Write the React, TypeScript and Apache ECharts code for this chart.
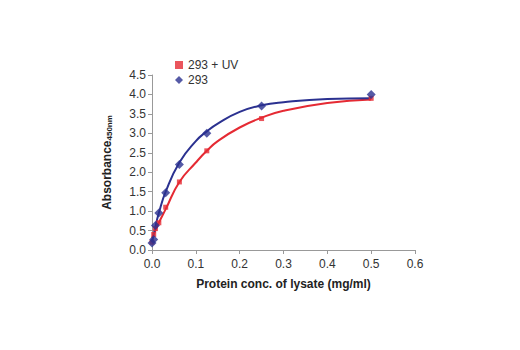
import React, { useEffect, useRef } from "react";
import * as echarts from "echarts";

const xRed = [0, 0.0039, 0.0078, 0.0156, 0.03125, 0.0625, 0.125, 0.25, 0.5];
const yRed = [0.2, 0.4, 0.55, 0.7, 1.1, 1.75, 2.55, 3.38, 3.9];
const xBlue = [0, 0.0039, 0.0078, 0.0156, 0.03125, 0.0625, 0.125, 0.25, 0.5];
const yBlue = [0.18, 0.27, 0.63, 0.95, 1.47, 2.2, 3.0, 3.7, 4.0];

const fitX = [0, 0.0078, 0.0156, 0.03125, 0.0625, 0.1, 0.125, 0.15, 0.2, 0.25, 0.3, 0.4, 0.5];
const fitRed = [0.3, 0.5, 0.7, 1.05, 1.75, 2.25, 2.55, 2.8, 3.15, 3.4, 3.58, 3.78, 3.87];
const fitBlue = [0.2, 0.6, 0.95, 1.5, 2.25, 2.8, 3.05, 3.25, 3.55, 3.72, 3.8, 3.88, 3.9];

const RED = "#e52a33";
const BLUE = "#2b3190";
const FONT = "'Liberation Sans Narrow', 'Arial Narrow', 'Liberation Sans', sans-serif";

export default function App() {
  const ref = useRef<HTMLDivElement>(null);
  useEffect(() => {
    document.body.style.margin = "0";
    const chart = echarts.init(ref.current!, null, { renderer: "svg" });
    const zip = (xs: number[], ys: number[]) => xs.map((x, i) => [x, ys[i]]);
    chart.setOption({
      animation: false,
      textStyle: { fontFamily: FONT },
      grid: { left: 152, right: 105, top: 75, bottom: 100 },
      legend: {
        orient: "vertical",
        left: 170,
        top: 54,
        itemGap: 3,
        itemWidth: 8,
        itemHeight: 8,
        textStyle: { fontSize: 12, color: "#333", fontFamily: FONT },
        data: [
          { name: "293 + UV", icon: "rect" },
          { name: "293", icon: "diamond" },
        ],
      },
      xAxis: {
        type: "value",
        min: 0,
        max: 0.6,
        interval: 0.1,
        name: "Protein conc. of lysate (mg/ml)",
        nameLocation: "middle",
        nameGap: 28,
        nameTextStyle: { fontWeight: "bold", fontSize: 12, color: "#222", fontFamily: FONT },
        axisLine: { lineStyle: { color: "#999" } },
        axisTick: { lineStyle: { color: "#999" }, length: 4 },
        splitLine: { show: false },
        axisLabel: { color: "#333", fontSize: 12, formatter: (v: number) => v.toFixed(1) },
      },
      yAxis: {
        type: "value",
        min: 0,
        max: 4.5,
        interval: 0.5,
        name: "{a|Absorbance}{b|450nm}",
        nameLocation: "middle",
        nameGap: 39,
        nameTextStyle: {
          rich: {
            a: { fontWeight: "bold", fontSize: 12, color: "#222", fontFamily: FONT },
            b: { fontWeight: "bold", fontSize: 8, color: "#222", fontFamily: FONT, padding: [5, 0, 0, 0] },
          },
        },
        axisLine: { show: true, lineStyle: { color: "#999" } },
        axisTick: { show: true, lineStyle: { color: "#999" }, length: 4 },
        splitLine: { show: false },
        axisLabel: { color: "#333", fontSize: 12, margin: 6, formatter: (v: number) => v.toFixed(1) },
      },
      series: [
        {
          name: "293 + UV fit",
          type: "line",
          smooth: true,
          showSymbol: false,
          data: zip(fitX, fitRed),
          lineStyle: { color: RED, width: 2 },
          itemStyle: { color: RED },
          z: 2,
        },
        {
          name: "293 fit",
          type: "line",
          smooth: true,
          showSymbol: false,
          data: zip(fitX, fitBlue),
          lineStyle: { color: BLUE, width: 2 },
          itemStyle: { color: BLUE },
          z: 2,
        },
        {
          name: "293 + UV",
          type: "scatter",
          symbol: "rect",
          symbolSize: 5,
          data: zip(xRed, yRed),
          itemStyle: { color: RED },
          z: 3,
        },
        {
          name: "293",
          type: "scatter",
          symbol: "diamond",
          symbolSize: 9,
          data: zip(xBlue, yBlue),
          itemStyle: { color: BLUE },
          z: 4,
        },
      ],
    });
    return () => chart.dispose();
  }, []);
  return <div ref={ref} style={{ width: 520, height: 350 }} />;
}
